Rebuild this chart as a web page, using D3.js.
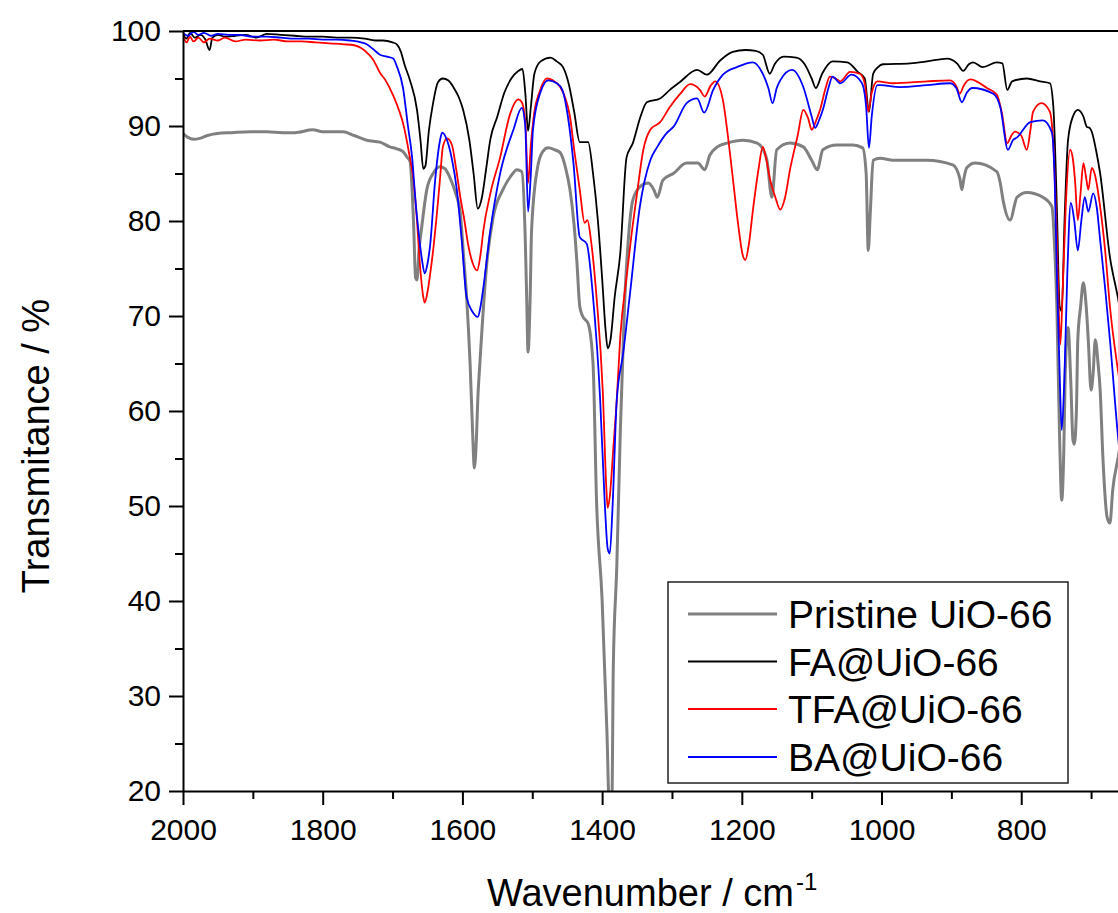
<!DOCTYPE html>
<html>
<head>
<meta charset="utf-8">
<script src="https://cdn.jsdelivr.net/npm/d3@7"></script>
<style>
  html, body { margin: 0; padding: 0; background: #fff; }
  svg { display: block; }
  text { font-family: "Liberation Sans", Arial, sans-serif; fill: #000; }
</style>
</head>
<body>
<svg id="chart" width="1118" height="913"></svg>
<script>
// ---------- data (wavenumber cm-1, transmittance %) ----------
const seriesNames = ["Pristine UiO-66", "FA@UiO-66", "TFA@UiO-66", "BA@UiO-66"];
const seriesColors = ["#808080", "#000000", "#ff0000", "#0000ff"];
const seriesWidths = [3, 1.8, 1.8, 1.8];

const pristine = [[2000,89.2],[1993,88.8],[1985,88.6],[1976,88.7],[1965,89.0],[1951,89.2],[1930,89.3],[1904,89.4],[1880,89.4],[1857,89.3],[1840,89.3],[1814,89.6],[1800,89.4],[1771,89.4],[1755,89.0],[1737,88.5],[1718,88.3],[1704,87.8],[1694,87.6],[1685,87.3],[1679,86.7],[1675,86.3],[1670,80],[1667,74],[1665,73.8],[1662,77],[1658,79.5],[1651,83.3],[1642,85],[1632,85.7],[1625,85.5],[1618,84.6],[1610,83],[1603,80.8],[1598,76],[1594,72],[1589,65],[1585,57],[1583,54],[1580,57],[1578,61.2],[1575,65],[1565,75.6],[1556,80.4],[1542,83.3],[1530,84.8],[1522,85.4],[1515,85.2],[1510,78],[1508,72],[1506,66.2],[1503,72],[1501,79],[1493,85.4],[1485,87.3],[1477,87.7],[1468,87.5],[1460,87.2],[1452,85.5],[1446,83.3],[1440,79.5],[1436,75.6],[1432,71],[1428,70],[1420,69.2],[1413,65],[1408,50.6],[1400,40.1],[1393,26],[1390,19],[1386,19],[1384,33],[1379,43.6],[1374,57.7],[1368,71],[1362,78.5],[1356,82.2],[1346,83.6],[1334,84],[1326,83.3],[1321,82.5],[1313,84.3],[1298,85],[1279,86.1],[1263,86.1],[1253,85.4],[1246,86.9],[1235,87.8],[1221,88.2],[1198,88.5],[1178,88.2],[1168,87.3],[1164,86.4],[1157,82.5],[1150,87.5],[1131,88.2],[1112,87.8],[1100,86.4],[1092,85.4],[1084,87.5],[1064,88],[1041,88],[1027,87.7],[1022,85],[1019,76.9],[1016,81],[1012,86.4],[1002,86.6],[983,86.4],[935,86.4],[898,85.9],[888,84.5],[885,83.3],[882,84.5],[878,85.6],[866,86.1],[835,85.2],[830,84],[826,82.2],[816,80.1],[806,82.5],[792,83],[769,82.5],[756,81.5],[752,77],[749,71],[745,57],[742,50.6],[739,56],[737,64],[733,68.8],[729,63],[726,57],[724,56.5],[721,60],[719,67.5],[715,71],[711,73.5],[707,71],[704,67.5],[700,62.2],[697,64],[694,67.5],[690,65],[687,62.2],[683,55],[677,48.8],[673,48.2],[669,51.7],[661,55.2],[655,58]];

const fa = [[2000,99.7],[1995,99.2],[1990,99.8],[1983,99.3],[1975,99.6],[1968,99.1],[1962,98.0],[1958,99.3],[1950,99.6],[1940,99.4],[1925,99.5],[1910,99.6],[1895,99.3],[1880,99.7],[1860,99.6],[1840,99.5],[1820,99.4],[1800,99.4],[1780,99.3],[1760,99.3],[1740,99.2],[1725,99.0],[1714,99.0],[1700,98.8],[1694,98.6],[1688,97.8],[1683,96.5],[1675,94.8],[1665,91.7],[1660,88.5],[1656,85.5],[1653,85.8],[1648,89.5],[1642,92.4],[1635,94.6],[1628,95.0],[1620,94.8],[1613,94.1],[1605,93.0],[1599,91.7],[1590,88.5],[1584,85],[1578,81.3],[1572,82.5],[1566,85.5],[1560,88.6],[1550,91],[1540,93.5],[1530,95],[1520,95.8],[1514,96],[1510,93.5],[1506,89.5],[1502,92],[1497,95.5],[1488,96.8],[1474,97.2],[1465,96.8],[1456,96.2],[1448,94.5],[1440,91.5],[1432,88.3],[1420,88.3],[1413,85],[1406,80],[1400,74],[1395,68.5],[1392,66.6],[1388,67.5],[1382,72],[1374,76.6],[1365,86.7],[1356,88.2],[1345,91],[1336,92.5],[1317,92.9],[1303,93.8],[1289,94.6],[1264,95.9],[1250,95.4],[1231,96.9],[1213,97.8],[1195,98],[1180,97.9],[1170,97.5],[1160,95.5],[1153,96.5],[1140,97.3],[1122,97.2],[1110,96.5],[1100,95],[1094,94],[1085,95.5],[1070,96.8],[1049,96.7],[1034,95.7],[1024,95.0],[1018,91.5],[1012,95.5],[1005,96.2],[998,96.5],[959,96.6],[935,96.8],[906,97.1],[892,96.6],[883,95.8],[875,96.5],[869,96.7],[855,96.2],[835,96.7],[827,96.6],[820,93.8],[813,94.7],[792,95],[773,94.7],[759,94.5],[754,92],[749,81.5],[745,71],[742,70.5],[738,80],[733,88.5],[726,91],[719,91.7],[711,91],[706,89.9],[702,89.8],[699,89.4],[693,87.5],[687,85],[673,76.2],[661,71.7],[655,69]];

const tfa = [[2000,99.5],[1995,98.8],[1990,99.4],[1985,98.9],[1978,99.3],[1970,98.8],[1962,99.2],[1950,99.0],[1940,99.3],[1925,98.9],[1910,99.1],[1890,99.0],[1870,99.1],[1850,98.9],[1830,98.9],[1810,98.8],[1790,98.7],[1770,98.6],[1755,98.5],[1745,98.2],[1735,97.6],[1728,97.0],[1718,95.6],[1710,94.8],[1699,93.2],[1690,91.5],[1685,90.3],[1676,87],[1670,84.3],[1665,80],[1661,75.6],[1656,72],[1654,71.4],[1650,72.5],[1646,74.5],[1641,77.5],[1637,80.4],[1632,84.5],[1628,87.8],[1622,88.7],[1615,88],[1609,85.5],[1603,82.5],[1597,80],[1592,77.6],[1585,75.5],[1579,74.8],[1574,76.5],[1570,79],[1560,82.9],[1546,86.7],[1532,91.2],[1520,92.8],[1515,92.5],[1510,90.5],[1506,84],[1502,88],[1497,91.5],[1490,93.5],[1479,95],[1470,94.8],[1460,94.1],[1453,93],[1446,91],[1440,87.5],[1432,83.3],[1425,79.8],[1421,80.1],[1416,78],[1408,72],[1399,62],[1394,52],[1392,49.8],[1389,51],[1384,56],[1379,61.2],[1374,67.8],[1365,74.1],[1358,78.5],[1350,82.9],[1341,87.5],[1331,89.6],[1317,90.4],[1303,92],[1288,93.4],[1274,94.4],[1260,93.8],[1253,93.1],[1245,94.2],[1238,94.7],[1227,92.7],[1220,89],[1213,84.6],[1205,79.5],[1199,76.5],[1195,75.9],[1190,77.5],[1184,81.2],[1176,85.5],[1170,87.8],[1165,86.5],[1160,84.5],[1152,82.5],[1145,81.2],[1138,82.5],[1131,85.4],[1120,89],[1112,91.7],[1105,90.8],[1100,89.6],[1094,90.5],[1088,91.7],[1080,94],[1074,95.2],[1066,95],[1059,94.7],[1045,95.7],[1031,95.5],[1024,94.5],[1019,91.5],[1014,93.5],[1006,94.7],[983,94.5],[935,94.7],[902,94.8],[893,94.2],[888,93.4],[882,94.3],[873,94.9],[849,94],[835,93.3],[828,91.5],[820,88.2],[814,89],[809,89.4],[800,89],[792,87.5],[787,89.5],[783,91.5],[771,92.4],[759,91.5],[754,88],[749,78],[746,70],[744,67],[741,72],[736,82],[730,87.5],[726,86.5],[723,84.3],[719,80.1],[715,83],[711,86.1],[707,84.5],[704,83.3],[699,85.6],[695,85],[687,81.5],[680,77],[673,71],[661,64],[655,61]];

const ba = [[2000,99.8],[1993,99.5],[1985,99.9],[1978,99.6],[1970,99.8],[1960,99.5],[1950,99.7],[1935,99.6],[1920,99.6],[1900,99.4],[1880,99.4],[1860,99.3],[1840,99.2],[1820,99.2],[1800,99.1],[1780,99.1],[1761,99.0],[1745,98.8],[1737,98.6],[1728,98.1],[1718,97.5],[1708,97.3],[1699,97.1],[1694,96.3],[1685,94],[1678,90],[1672,86.7],[1667,82],[1663,79],[1658,76],[1654,74.5],[1650,75.5],[1646,77.6],[1639,84.3],[1632,88.5],[1629,89.3],[1622,88.5],[1615,86.5],[1608,83.3],[1601,78],[1594,72],[1586,70.5],[1578,69.9],[1574,71],[1570,73],[1560,79],[1546,85],[1527,89.6],[1515,91.9],[1510,90],[1506,81],[1502,85],[1499,89.6],[1489,93.4],[1477,94.8],[1465,94.5],[1457,93.8],[1449,91],[1441,86.1],[1432,78.3],[1422,77.6],[1413,72],[1403,61.5],[1396,50],[1392,45.5],[1389,45],[1385,50],[1379,61.2],[1370,66],[1360,72.4],[1346,81.5],[1331,86.4],[1321,87.8],[1307,89.3],[1298,89.9],[1279,92.4],[1264,92.9],[1254,91.4],[1241,93.8],[1227,95.4],[1207,96.2],[1184,96.7],[1170,95.5],[1162,94],[1156,92.4],[1150,94],[1145,94.8],[1128,95.9],[1112,94.1],[1100,91],[1095,89.8],[1090,90.5],[1084,91.7],[1076,94],[1070,95.2],[1059,94.5],[1043,95.4],[1028,94.5],[1022,92],[1018,87.7],[1014,91],[1006,94.3],[1002,94.3],[974,94.1],[935,94.3],[902,94.5],[893,94],[885,92.5],[878,93.5],[870,94],[840,93.4],[830,92],[819,87.5],[812,88.5],[806,88.8],[787,90.4],[769,90.6],[756,89.3],[752,84],[749,74.5],[745,64],[742,58],[738,64],[734,74.5],[729,81.9],[724,80],[719,76.9],[714,80],[709,82.5],[704,81],[697,82.9],[692,81.5],[687,78],[680,73],[673,67.5],[661,57],[655,53]];

const allSeries = [pristine, fa, tfa, ba];

const xMajorTicks = [2000, 1800, 1600, 1400, 1200, 1000, 800];
const xMinorTicks = [1900, 1700, 1500, 1300, 1100, 900, 700];
const yMajorTicks = [20, 30, 40, 50, 60, 70, 80, 90, 100];
const yMinorTicks = [25, 35, 45, 55, 65, 75, 85, 95];

// ---------- layout ----------
const svg = d3.select("#chart");
const pLeft = 183, pTop = 31, pBottom = 791, pRight = 1126;

const x = d3.scaleLinear().domain([2000, 650]).range([pLeft, pRight]);
const y = d3.scaleLinear().domain([20, 100]).range([pBottom, pTop]);

svg.append("defs").append("clipPath").attr("id", "plotclip")
  .append("rect").attr("x", pLeft).attr("y", pTop).attr("width", pRight - pLeft).attr("height", pBottom - pTop);

// curves
const line = d3.line().x(d => x(d[0])).y(d => y(d[1])).curve(d3.curveMonotoneX);
const gLines = svg.append("g").attr("clip-path", "url(#plotclip)");
allSeries.forEach((s, i) => {
  gLines.append("path").datum(s)
    .attr("d", line)
    .attr("fill", "none")
    .attr("stroke", seriesColors[i])
    .attr("stroke-width", seriesWidths[i])
    .attr("stroke-linejoin", "round");
});

// axes
function styleAxis(g) {
  g.selectAll("path.domain").attr("stroke", "#000").attr("stroke-width", 2);
  g.selectAll(".tick line").attr("stroke", "#000").attr("stroke-width", 2);
  g.selectAll("text").attr("font-size", 30).attr("font-family", "Liberation Sans, Arial, sans-serif").attr("fill", "#000");
}

const yAxis = svg.append("g").attr("transform", `translate(${pLeft},0)`)
  .call(d3.axisLeft(y).tickValues(yMajorTicks).tickSize(14).tickSizeOuter(0).tickPadding(8).tickFormat(d3.format("d")));
styleAxis(yAxis);
const yMinor = svg.append("g").attr("transform", `translate(${pLeft},0)`)
  .call(d3.axisLeft(y).tickValues(yMinorTicks).tickSize(8).tickSizeOuter(0).tickFormat(""));
styleAxis(yMinor);
yMinor.select("path.domain").remove();

const xAxis = svg.append("g").attr("transform", `translate(0,${pBottom})`)
  .call(d3.axisBottom(x).tickValues(xMajorTicks).tickSize(14).tickSizeOuter(0).tickPadding(14).tickFormat(d3.format("d")));
styleAxis(xAxis);
const xMinor = svg.append("g").attr("transform", `translate(0,${pBottom})`)
  .call(d3.axisBottom(x).tickValues(xMinorTicks).tickSize(8).tickSizeOuter(0).tickFormat(""));
styleAxis(xMinor);
xMinor.select("path.domain").remove();

// top frame line
svg.append("line").attr("x1", pLeft).attr("x2", pRight).attr("y1", pTop).attr("y2", pTop)
  .attr("stroke", "#000").attr("stroke-width", 2);

// axis titles
svg.append("text")
  .attr("transform", `translate(49,446) rotate(-90)`)
  .attr("text-anchor", "middle")
  .attr("font-size", 38)
  .text("Transmitance / %");

const xt = svg.append("text")
  .attr("x", 487).attr("y", 906)
  .attr("font-size", 38);
xt.append("tspan").text("Wavenumber / cm");
xt.append("tspan").attr("font-size", 24).attr("dy", -16).attr("dx", 2).text("-1");

// legend
const lg = svg.append("g");
lg.append("rect").attr("x", 668).attr("y", 582).attr("width", 400).attr("height", 201)
  .attr("fill", "#fff").attr("stroke", "#222").attr("stroke-width", 1.5);
const rowY = [614, 661.5, 709, 757];
seriesNames.forEach((name, i) => {
  lg.append("line").attr("x1", 688).attr("x2", 777).attr("y1", rowY[i]).attr("y2", rowY[i])
    .attr("stroke", seriesColors[i]).attr("stroke-width", seriesWidths[i]);
  lg.append("text").attr("x", 788).attr("y", rowY[i] + 14).attr("font-size", 39).text(name);
});
</script>
</body>
</html>
